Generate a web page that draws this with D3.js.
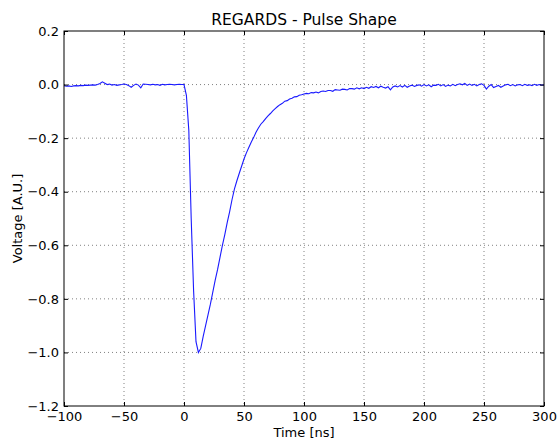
<!DOCTYPE html>
<html><head><meta charset="utf-8">
<script src="https://cdn.jsdelivr.net/npm/d3@7"></script>
<style>body{margin:0;background:#fff}svg{display:block}text{font-family:"DejaVu Sans",sans-serif;fill:#000}</style>
</head><body><svg id="c" width="557" height="438"></svg>
<script>
const title = "REGARDS - Pulse Shape";
const xLabel = "Time [ns]";
const yLabel = "Voltage [A.U.]";
const xTicks = [-100, -50, 0, 50, 100, 150, 200, 250, 300];
const yTicks = [0.2, 0.0, -0.2, -0.4, -0.6, -0.8, -1.0, -1.2];
const tStart = -100, tStep = 2;
const voltage = [
-0.004,-0.006,-0.005,-0.007,-0.005,
-0.004,-0.005,-0.003,-0.004,-0.002,
-0.003,-0.002,-0.001,-0.002,0.000,
0.004,0.010,0.005,0.000,0.002,
-0.002,0.000,-0.003,-0.001,0.000,
0.002,0.000,-0.004,-0.010,-0.003,
0.002,-0.002,-0.012,0.002,0.001,
0.000,-0.001,0.001,-0.001,0.000,
-0.003,0.001,-0.001,0.000,0.001,
0.000,-0.001,0.000,0.001,0.000,
0.000,-0.04,-0.17,-0.50,-0.77,
-0.96,-1.00,-0.985,-0.94,-0.90,
-0.86,-0.82,-0.775,-0.73,-0.69,
-0.645,-0.60,-0.56,-0.515,-0.475,
-0.43,-0.39,-0.36,-0.332,-0.305,
-0.278,-0.255,-0.235,-0.215,-0.198,
-0.178,-0.162,-0.148,-0.138,-0.127,
-0.117,-0.108,-0.098,-0.09,-0.082,
-0.075,-0.070,-0.062,-0.060,-0.054,
-0.051,-0.046,-0.045,-0.040,-0.038,
-0.035,-0.033,-0.034,-0.030,-0.031,
-0.028,-0.031,-0.026,-0.024,-0.026,
-0.022,-0.022,-0.025,-0.019,-0.020,
-0.021,-0.017,-0.018,-0.020,-0.015,
-0.015,-0.017,-0.012,-0.016,-0.012,
-0.015,-0.010,-0.014,-0.008,-0.011,
-0.007,-0.012,-0.006,-0.010,-0.013,
-0.008,-0.020,-0.009,-0.005,-0.009,
-0.004,-0.009,-0.003,-0.010,-0.005,
-0.002,-0.007,-0.003,-0.001,-0.006,
0.000,-0.005,-0.001,-0.008,-0.002,
-0.003,0.001,-0.005,0.000,-0.007,
-0.002,-0.005,0.001,-0.004,0.000,
0.003,-0.001,0.004,-0.003,0.002,
-0.003,0.001,-0.005,0.000,0.003,
-0.003,-0.017,-0.006,0.000,-0.011,
-0.007,-0.003,-0.010,-0.005,-0.001,
0.001,-0.004,0.000,-0.005,-0.001,
0.000,-0.004,0.001,-0.003,-0.001,
-0.004,0.001,-0.003,0.000,-0.002,
-0.001
];
const data = voltage.map((v, i) => ({t: tStart + i * tStep, v}));

const svg = d3.select("#c");
const L = 64, R = 544, T = 31, B = 406;
const x = d3.scaleLinear().domain([-100, 300]).range([L, R]);
const y = d3.scaleLinear().domain([-1.2, 0.2]).range([B, T]);
const fmtY = d3.format(".1f");

// grid
const g = svg.append("g");
g.selectAll(".gx").data(xTicks.slice(1, -1)).enter().append("line")
  .attr("x1", d => x(d)).attr("x2", d => x(d)).attr("y1", T).attr("y2", B)
  .attr("stroke", "#000").attr("stroke-width", 0.5).attr("stroke-dasharray", "1,3");
g.selectAll(".gy").data(yTicks.slice(1, -1)).enter().append("line")
  .attr("y1", d => y(d)).attr("y2", d => y(d)).attr("x1", L).attr("x2", R)
  .attr("stroke", "#000").attr("stroke-width", 0.5).attr("stroke-dasharray", "1,3");

// line
svg.append("path").datum(data)
  .attr("d", d3.line().x(d => x(d.t)).y(d => y(d.v)))
  .attr("fill", "none").attr("stroke", "#1a1aff").attr("stroke-width", 1.1);

// axes (inward ticks)
const ax = (gen) => gen.tickSizeInner(-4).tickSizeOuter(0);
const xb = svg.append("g").attr("transform", `translate(0,${B})`)
  .call(ax(d3.axisBottom(x).tickValues(xTicks)).tickPadding(6));
const xt = svg.append("g").attr("transform", `translate(0,${T})`)
  .call(ax(d3.axisTop(x).tickValues(xTicks)).tickFormat(""));
const yl = svg.append("g").attr("transform", `translate(${L},0)`)
  .call(ax(d3.axisLeft(y).tickValues(yTicks)).tickFormat(fmtY).tickPadding(5));
const yr = svg.append("g").attr("transform", `translate(${R},0)`)
  .call(ax(d3.axisRight(y).tickValues(yTicks)).tickFormat(""));
[xb, xt, yl, yr].forEach(a => {
  a.select(".domain").remove();
  a.selectAll("line").attr("stroke", "#000");
  a.selectAll("text").attr("font-size", 13).attr("font-family", "DejaVu Sans").attr("fill", "#000");
});
xb.selectAll("text").attr("dy", "0.71em");

// frame
svg.append("rect").attr("x", L).attr("y", T).attr("width", R - L).attr("height", B - T)
  .attr("fill", "none").attr("stroke", "#000").attr("stroke-width", 1);

svg.append("text").attr("x", (L + R) / 2).attr("y", 25).attr("text-anchor", "middle")
  .attr("font-size", 15.5).text(title);
svg.append("text").attr("x", (L + R) / 2).attr("y", 437).attr("text-anchor", "middle")
  .attr("font-size", 13).text(xLabel);
svg.append("text").attr("transform", `translate(22,${(T + B) / 2}) rotate(-90)`)
  .attr("text-anchor", "middle").attr("font-size", 13).text(yLabel);
</script></body></html>
